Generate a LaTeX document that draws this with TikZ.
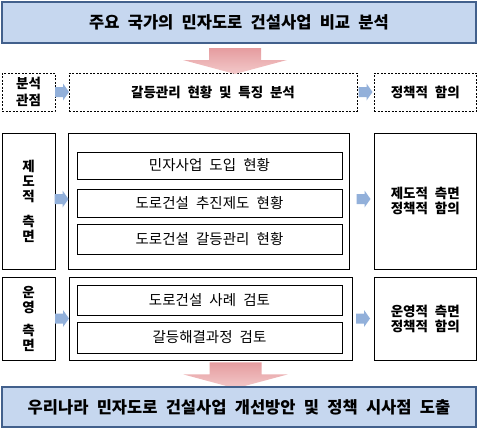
\documentclass[tikz,border=0pt]{standalone}
\usepackage{fontspec}
\setmainfont{Noto Sans CJK KR}[WordSpace=2.2]
\usetikzlibrary{calc}
\definecolor{titlefill}{HTML}{C6D7EF}
\definecolor{titledraw}{HTML}{42608C}
\definecolor{redtop}{HTML}{E59C9F}
\definecolor{redbot}{HTML}{F3C9CA}
\definecolor{bluearr}{HTML}{92B0DA}
% \bx{style}{x1}{y1}{x2}{y2}{name}{text}
\newcommand\bx[7]{\node[#1, minimum width={#4-#2}, minimum height={#5-#3}] (#6) at ({(#2+#4)/2},{(#3+#5)/2}) {#7};}
\begin{document}
\begin{tikzpicture}[x=1pt,y=-1pt,
  titlebox/.style={draw=titledraw, fill=titlefill, line width=2pt, inner sep=0pt,
    font=\fontsize{16.5}{18}\selectfont\bfseries},
  solidbox/.style={draw=black, line width=0.9pt, inner sep=0pt},
  dashbox/.style={draw=black, line width=0.8pt, dash pattern=on 2pt off 1.5pt, inner sep=0pt,
    font=\fontsize{13.5}{16.5}\selectfont\bfseries, align=center},
  sidetext/.style={font=\fontsize{13.5}{15}\selectfont\bfseries, align=center},
  innertext/.style={font=\fontsize{14.5}{16}\selectfont},
  barrow/.pic={\fill[bluearr] (-7,-5) -- (1,-5) -- (1,-8.5) -- (7,0) -- (1,8.5) -- (1,5) -- (-7,5) -- cycle;},
  rarrow/.pic={\shade[top color=redtop, bottom color=redbot] (-26,0) -- (26,0) -- (26,12) -- (52,12) -- (0,26) -- (-52,12) -- (-26,12) -- cycle;}
]
\useasboundingbox (0,0) rectangle (478,429);

% title
\bx{titlebox}{2}{2}{476}{43}{title}{주요 국가의 민자도로 건설사업 비교 분석}

% row 1
\bx{dashbox}{2}{73}{55}{111}{r1l}{분석\\관점}
\bx{dashbox}{69}{73}{357}{111}{r1m}{갈등관리 현황 및 특징 분석}
\bx{dashbox}{374}{73}{476.5}{111}{r1r}{정책적 함의}

% row 2
\bx{solidbox, sidetext}{2}{133}{55}{269}{r2l}{제\\도\\적\\[10pt]측\\면}
\bx{solidbox}{68}{133}{349}{269}{r2m}{}
\bx{solidbox, innertext}{77}{152}{342}{179}{r2a}{민자사업 도입 현황}
\bx{solidbox, innertext}{77}{189}{342}{217}{r2b}{도로건설 추진제도 현황}
\bx{solidbox, innertext}{77}{224}{342}{254}{r2c}{도로건설 갈등관리 현황}
\bx{solidbox, sidetext}{374}{133}{476.5}{269}{r2r}{제도적 측면\\정책적 함의}

% row 3
\bx{solidbox, sidetext}{2}{277}{55}{360}{r3l}{운\\영\\[8pt]측\\면}
\bx{solidbox}{69}{277}{352}{360}{r3m}{}
\bx{solidbox, innertext}{77}{285}{342}{315}{r3a}{도로건설 사례 검토}
\bx{solidbox, innertext}{77}{322}{342}{353}{r3b}{갈등해결과정 검토}
\bx{solidbox, sidetext}{374}{277}{476.5}{360}{r3r}{운영적 측면\\정책적 함의}

% red arrows
\pic at ($(title.south)+(-4,4)$) {rarrow};
\pic at ($(r3m.south)+(25,2)$) {rarrow};

% bottom
\bx{titlebox}{2}{387}{476}{427}{bottom}{우리나라 민자도로 건설사업 개선방안 및 정책 시사점 도출}

% blue arrows
\pic at ($(r1l.east)!0.5!(r1m.west)$) {barrow};
\pic at ($(r1m.east)!0.5!(r1r.west)$) {barrow};
\pic at ($(r2l.east)!0.5!(r2m.west)+(0,-2)$) {barrow};
\pic at ($(r2m.east)!0.5!(r2r.west)+(2,-2)$) {barrow};
\pic at ($(r3l.east)!0.5!(r3m.west)$) {barrow};
\pic at ($(r3m.east)!0.5!(r3r.west)$) {barrow};
\end{tikzpicture}
\end{document}
